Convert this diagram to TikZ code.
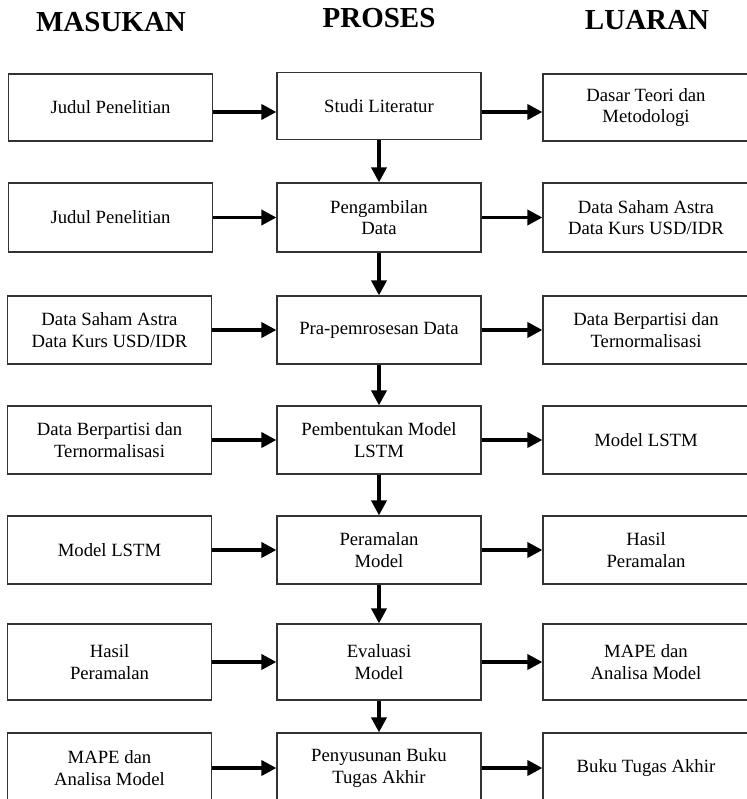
\documentclass[tikz,border=0pt]{standalone}
\usepackage{fontspec}
\setmainfont{Liberation Serif}
\usetikzlibrary{arrows.meta}
\begin{document}
\begin{tikzpicture}[x=1pt,y=-1pt,
  box/.style={draw=black!80,line width=1.2pt,rectangle,minimum width=204pt,align=center,
    inner sep=0pt,font=\fontsize{18.7}{21.5}\selectfont},
  rbox/.style={box,minimum width=206pt},
  head/.style={anchor=base,font=\fontsize{29}{32}\selectfont\bfseries},
  arr/.style={line width=3.6pt,-{Triangle[length=15pt,width=15pt]}}]
\useasboundingbox (0,0) rectangle (746,799);
% headings
\node[head] (hm) at (111,32) {MASUKAN};
\node[head] (hp) at (379,28) {PROSES};
\node[head] (hl) at (647,30) {LUARAN};
% row 1
\node[box,minimum height=67pt] (L1) at (110.5,107.5) {Judul Penelitian};
\node[box,minimum height=67pt] (M1) at (379,106) {Studi Literatur};
\node[rbox,minimum height=67pt] (R1) at (646,107.5) {Dasar Teori dan\\Metodologi};
% row 2
\node[box,minimum height=69pt] (L2) at (110.5,217.5) {Judul Penelitian};
\node[box,minimum height=69pt] (M2) at (379,217.5) {Pengambilan\\Data};
\node[rbox,minimum height=69pt] (R2) at (646,217.5) {Data Saham Astra\\Data Kurs USD/IDR};
% row 3
\node[box,minimum height=68pt] (L3) at (109.5,330) {Data Saham Astra\\Data Kurs USD/IDR};
\node[box,minimum height=68pt] (M3) at (379,330) {Pra-pemrosesan Data};
\node[rbox,minimum height=68pt] (R3) at (646,330) {Data Berpartisi dan\\Ternormalisasi};
% row 4
\node[box,minimum height=68pt] (L4) at (109.5,440) {Data Berpartisi dan\\Ternormalisasi};
\node[box,minimum height=68pt] (M4) at (379,440) {Pembentukan Model\\LSTM};
\node[rbox,minimum height=68pt] (R4) at (646,440) {Model LSTM};
% row 5
\node[box,minimum height=68pt] (L5) at (109.5,550) {Model LSTM};
\node[box,minimum height=68pt] (M5) at (379,550) {Peramalan\\Model};
\node[rbox,minimum height=68pt] (R5) at (646,550) {Hasil\\Peramalan};
% row 6
\node[box,minimum height=76pt] (L6) at (109.5,662) {Hasil\\Peramalan};
\node[box,minimum height=76pt] (M6) at (379,662) {Evaluasi\\Model};
\node[rbox,minimum height=76pt] (R6) at (646,662) {MAPE dan\\Analisa Model};
% row 7
\node[box,minimum height=70pt] (L7) at (109.5,768) {MAPE dan\\Analisa Model};
\node[box,minimum height=70pt] (M7) at (379,768) {Penyusunan Buku\\Tugas Akhir};
\node[rbox,minimum height=70pt] (R7) at (646,768) {Buku Tugas Akhir};
% horizontal arrows
\draw[arr] ([yshift=-4.5pt]L1.east) -- ([yshift=-6pt]M1.west);
\draw[arr] ([yshift=-6pt]M1.east) -- ([yshift=-4.5pt]R1.west);
\foreach \i in {2,...,7}{
  \draw[arr] (L\i.east) -- (M\i.west);
  \draw[arr] (M\i.east) -- (R\i.west);
}
% vertical arrows
\draw[arr] (M1.south) -- (M2.north);
\draw[arr] (M2.south) -- (M3.north);
\draw[arr] (M3.south) -- (M4.north);
\draw[arr] (M4.south) -- (M5.north);
\draw[arr] (M5.south) -- (M6.north);
\draw[arr] (M6.south) -- (M7.north);
\end{tikzpicture}
\end{document}
